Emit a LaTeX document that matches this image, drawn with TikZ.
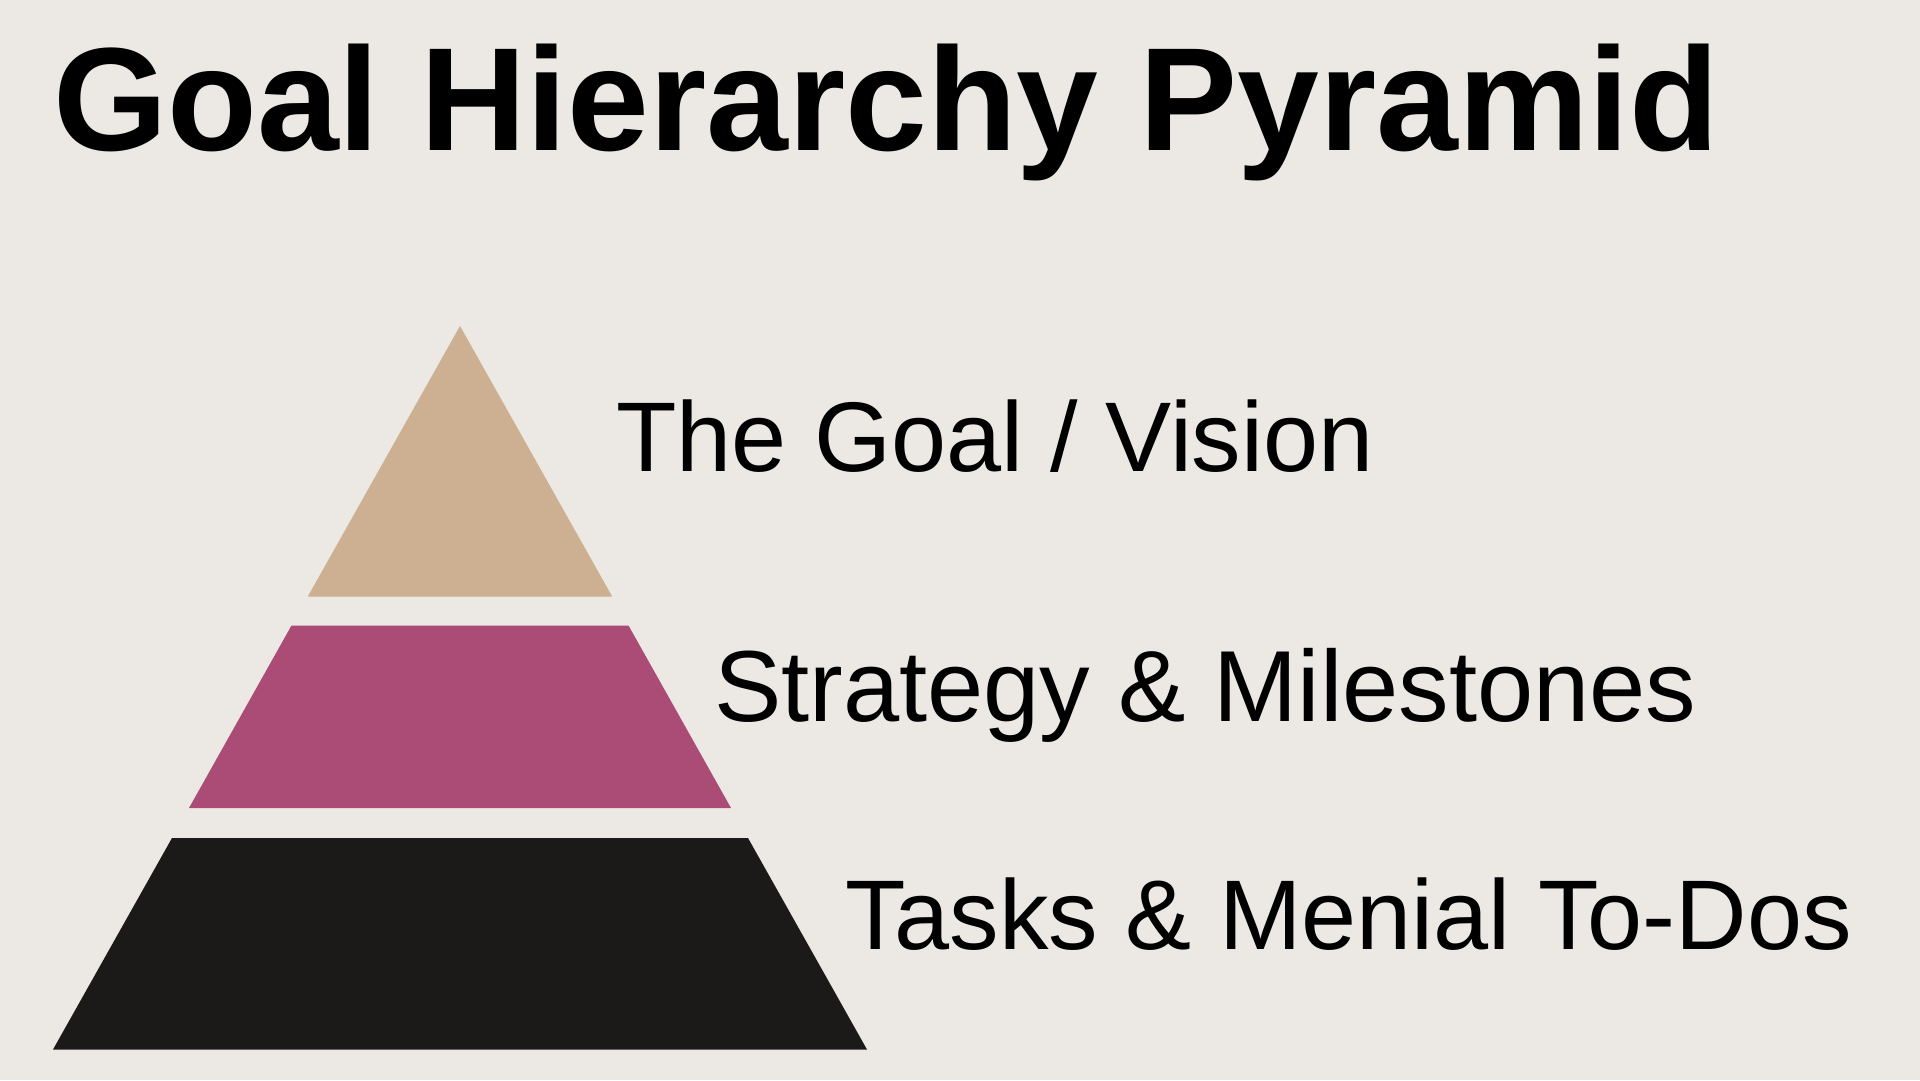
\documentclass[tikz,border=0pt]{standalone}
\usepackage{fontspec}
\setmainfont{Liberation Sans}
\definecolor{bgc}{HTML}{ECE9E4}
\definecolor{tanc}{HTML}{CDB091}
\definecolor{plumc}{HTML}{AA4C75}
\definecolor{darkc}{HTML}{1C1A18}
\tikzset{
  layer/.style={draw=none},
  lbl/.style={anchor=base west, inner sep=0pt, outer sep=0pt, text=black, font=\fontsize{99}{110}\selectfont},
  ttl/.style={anchor=base west, inner sep=0pt, outer sep=0pt, text=black, font=\bfseries\fontsize{147}{160}\selectfont}
}
\begin{document}
\begin{tikzpicture}[x=1pt,y=-1pt]
\fill[bgc] (0,0) rectangle (1920,1080);
\useasboundingbox (0,0) rectangle (1920,1080);
% pyramid layers
\coordinate (apex) at (460,326);
\fill[tanc,layer] (apex) -- (612.2,596.5) -- (307.8,596.5) -- cycle;
\fill[plumc,layer] (291.5,625.5) -- (628.5,625.5) -- (731,808) -- (189,808) -- cycle;
\fill[darkc,layer] (172,838) -- (748,838) -- (867,1049.5) -- (53,1049.5) -- cycle;
% title
\node[ttl] (title) at (53,150) {Goal Hierarchy Pyramid};
% labels
\node[lbl] (goal) at (616,471) {The Goal / Vision};
\node[lbl, font=\fontsize{101}{112}\selectfont] (strategy) at (714,721) {Strategy \& Milestones};
\node[lbl] (tasks) at (845,949) {Tasks \& Menial To-Dos};
\end{tikzpicture}
\end{document}
